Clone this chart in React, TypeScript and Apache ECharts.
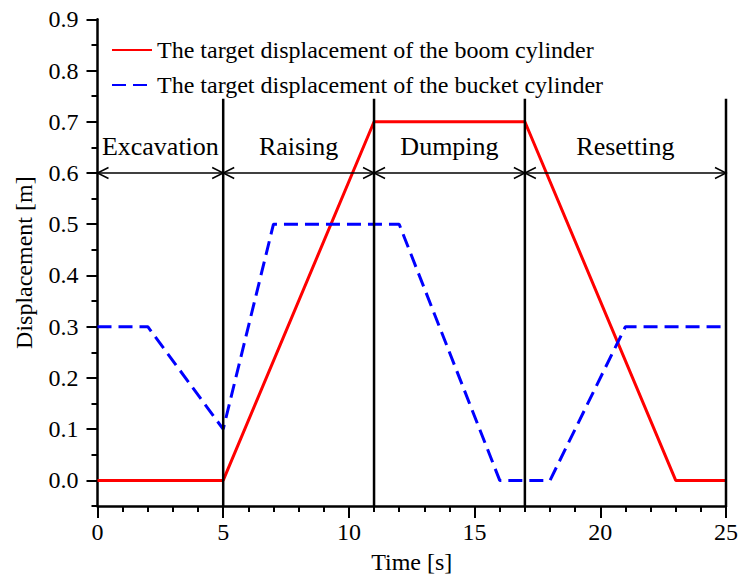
import React, { useEffect, useRef } from "react";
import * as echarts from "echarts";

const boomTime = [0, 5, 11, 17, 23, 25];
const boomDisp = [0, 0, 0.7, 0.7, 0, 0];
const bucketTime = [0, 2, 5, 7, 12, 16, 18, 21, 25];
const bucketDisp = [0.3, 0.3, 0.1, 0.5, 0.5, 0, 0, 0.3, 0.3];
const seriesNames = [
  "The target displacement of the boom cylinder",
  "The target displacement of the bucket cylinder",
];
const phaseNames = ["Excavation", "Raising", "Dumping", "Resetting"];
const phaseBounds = [0, 5, 11, 17, 25];
const dividerTimes = [5, 11, 17, 25];
const dividerTop = 0.745;
const arrowLevel = 0.6;
const labelLevel = 0.652;
const yTicks = [0, 0.1, 0.2, 0.3, 0.4, 0.5, 0.6, 0.7, 0.8, 0.9];
const xTicks = [0, 5, 10, 15, 20, 25];

const FONT = "'Liberation Serif', 'Times New Roman', serif";

export default function App() {
  const ref = useRef<HTMLDivElement>(null);
  useEffect(() => {
    document.body.style.margin = "0";
    const chart = echarts.init(ref.current!, null, { renderer: "svg" });
    const phaseData = phaseNames.map((_, i) => [phaseBounds[i], phaseBounds[i + 1], i]);
    const option: any = {
      animation: false,
      backgroundColor: "#fff",
      textStyle: { fontFamily: FONT, color: "#000" },
      grid: { left: 97.5, right: 12.5, top: 19.3, bottom: 70 },
      legend: {
        data: seriesNames,
        orient: "vertical",
        left: 106,
        top: 33,
        itemWidth: 40,
        itemHeight: 14,
        itemGap: 11,
        itemStyle: { opacity: 0 },
        textStyle: { fontFamily: FONT, fontSize: 24, color: "#000", lineHeight: 24 },
      },
      xAxis: {
        type: "value",
        min: xTicks[0],
        max: xTicks[xTicks.length - 1],
        interval: 5,
        name: "Time [s]",
        nameLocation: "middle",
        nameGap: 44,
        nameTextStyle: { fontFamily: FONT, fontSize: 24, color: "#000" },
        axisLine: { onZero: false, lineStyle: { color: "#000", width: 2.5 } },
        axisTick: { length: 12, lineStyle: { color: "#000", width: 2 } },
        minorTick: { show: true, splitNumber: 5, length: 6, lineStyle: { color: "#000", width: 2 } },
        axisLabel: { fontFamily: FONT, fontSize: 24, color: "#000", margin: 14 },
        splitLine: { show: false },
      },
      yAxis: [
        {
          type: "value",
          min: -0.05,
          max: 0.9,
          position: "left",
          name: "Displacement [m]",
          nameLocation: "middle",
          nameGap: 62,
          nameTextStyle: { fontFamily: FONT, fontSize: 24, color: "#000" },
          axisLine: { show: true, onZero: false, lineStyle: { color: "#000", width: 2.5 } },
          axisTick: { show: true, customValues: yTicks, length: 11, lineStyle: { color: "#000", width: 2 } },
          axisLabel: {
            customValues: yTicks,
            formatter: (v: number) => v.toFixed(1),
            fontFamily: FONT,
            fontSize: 24,
            color: "#000",
            margin: 19,
          },
          splitLine: { show: false },
        },
        {
          type: "value",
          min: -0.05,
          max: 0.9,
          interval: 0.05,
          position: "left",
          offset: 0,
          axisLine: { show: false },
          axisTick: { show: true, length: 6, lineStyle: { color: "#000", width: 2 } },
          axisLabel: { show: false },
          splitLine: { show: false },
        },
      ],
      series: [
        {
          name: seriesNames[0],
          type: "line",
          data: boomTime.map((t, i) => [t, boomDisp[i]]),
          symbol: "none",
          lineStyle: { color: "#ff0000", width: 3 },
          itemStyle: { color: "#ff0000" },
          z: 3,
        },
        {
          name: seriesNames[1],
          type: "line",
          data: bucketTime.map((t, i) => [t, bucketDisp[i]]),
          symbol: "none",
          lineStyle: { color: "#0000ff", width: 3, type: [14, 7] },
          itemStyle: { color: "#0000ff" },
          z: 3,
        },
        {
          name: "phases",
          type: "custom",
          data: phaseData,
          z: 4,
          renderItem: (params: any, api: any) => {
            const p0 = api.coord([api.value(0), arrowLevel]);
            const p1 = api.coord([api.value(1), arrowLevel]);
            const lp = api.coord([(api.value(0) + api.value(1)) / 2, labelLevel]);
            const idx = api.value(2);
            const st = { stroke: "#000", lineWidth: 1.5, fill: null };
            const ah = 11;
            const aw = 5.5;
            return {
              type: "group",
              children: [
                { type: "line", shape: { x1: p0[0], y1: p0[1], x2: p1[0], y2: p1[1] }, style: st },
                {
                  type: "polyline",
                  shape: { points: [[p0[0] + ah, p0[1] - aw], [p0[0], p0[1]], [p0[0] + ah, p0[1] + aw]] },
                  style: st,
                },
                {
                  type: "polyline",
                  shape: { points: [[p1[0] - ah, p1[1] - aw], [p1[0], p1[1]], [p1[0] - ah, p1[1] + aw]] },
                  style: st,
                },
                {
                  type: "text",
                  x: lp[0],
                  y: lp[1],
                  style: {
                    text: phaseNames[idx],
                    fontFamily: FONT,
                    fontSize: 26,
                    fill: "#000",
                    align: "center",
                    verticalAlign: "middle",
                  },
                },
              ],
            };
          },
        },
        {
          name: "dividers",
          type: "custom",
          data: dividerTimes.map((t) => [t]),
          z: 5,
          renderItem: (params: any, api: any) => {
            const a = api.coord([api.value(0), -0.05]);
            const b = api.coord([api.value(0), dividerTop]);
            return {
              type: "line",
              shape: { x1: a[0], y1: a[1], x2: b[0], y2: b[1] },
              style: { stroke: "#000", lineWidth: 2.5 },
            };
          },
        },
      ],
    };
    chart.setOption(option);
    return () => chart.dispose();
  }, []);
  return <div ref={ref} style={{ width: 741, height: 579 }} />;
}
